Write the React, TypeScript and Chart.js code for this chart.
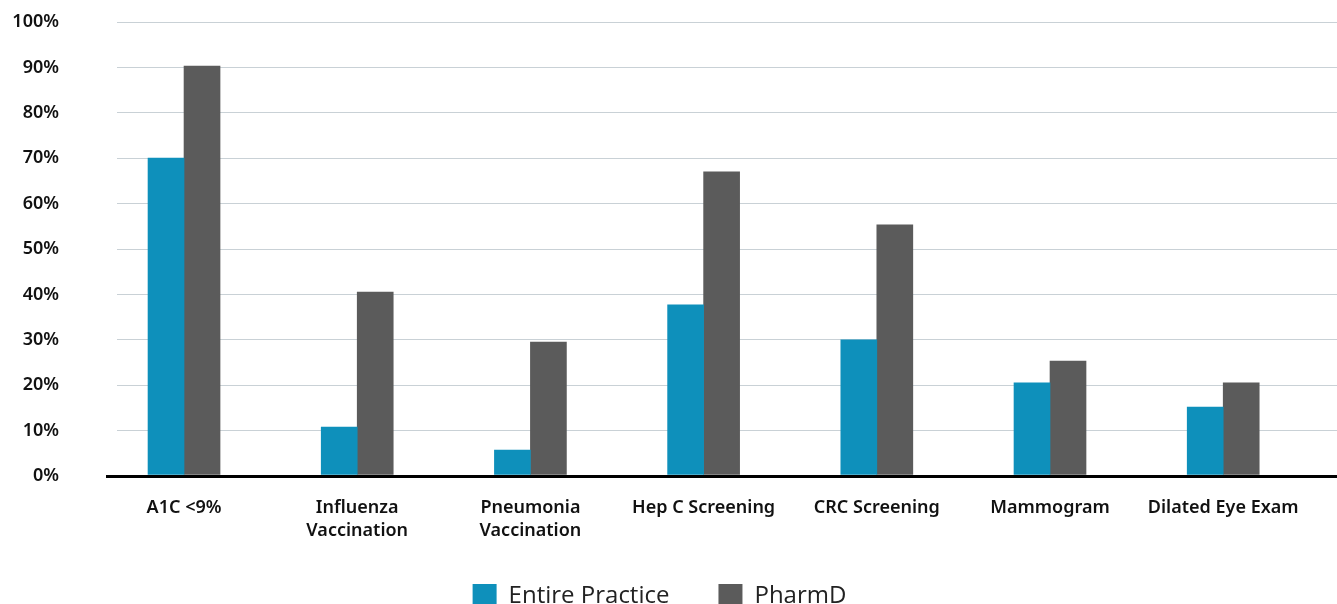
import React, { useEffect, useRef } from "react";
import { Chart, registerables } from "chart.js";

Chart.register(...registerables);

const categories: (string | string[])[] = [
  "A1C <9%",
  ["Influenza", "Vaccination"],
  ["Pneumonia", "Vaccination"],
  "Hep C Screening",
  "CRC Screening",
  "Mammogram",
  "Dilated Eye Exam",
];
const entirePractice = [70, 10.8, 5.7, 37.7, 30, 20.5, 15.2];
const pharmD = [90.3, 40.5, 29.5, 67, 55.3, 25.3, 20.5];
const seriesNames = ["Entire Practice", "PharmD"];
const yTicks = [0, 10, 20, 30, 40, 50, 60, 70, 80, 90, 100];

const BLUE = "#0E90BB";
const GRAY = "#5B5B5B";
const LABEL_FONT = "'Noto Sans', 'Open Sans', sans-serif";
const LEGEND_FONT = "'Open Sans', 'Noto Sans', sans-serif";

const CANVAS_W = 1355;
const CANVAS_H = 618;
const LEGEND_H = 24 + 49 + 10;
const PLOT_BOTTOM = 476;

export default function App() {
  const ref = useRef<HTMLCanvasElement | null>(null);

  useEffect(() => {
    if (!ref.current) return;
    const toPoints = (arr: number[]) => arr.map((v, i) => ({ x: i, y: v }));
    const chart = new Chart(ref.current, {
      type: "bar",
      data: {
        datasets: [
          {
            label: seriesNames[0],
            data: toPoints(entirePractice),
            backgroundColor: BLUE,
            barThickness: 36,
          },
          {
            label: seriesNames[1],
            data: toPoints(pharmD),
            backgroundColor: GRAY,
            barThickness: 36,
          },
        ],
      },
      options: {
        animation: false,
        responsive: false,
        layout: { padding: { top: 22, left: 0, right: 0, bottom: 0 } },
        plugins: {
          tooltip: { enabled: false },
          legend: {
            position: "bottom",
            labels: {
              boxWidth: 24,
              boxHeight: 24,
              padding: 49,
              color: "#222",
              font: { family: LEGEND_FONT, size: 24, weight: "400", lineHeight: 1.2 },
            },
          },
        },
        scales: {
          x: {
            type: "linear",
            min: -0.387,
            max: 6.657,
            offset: false,
            grid: { display: false, drawTicks: false },
            border: { display: false },
            afterBuildTicks: (scale: any) => {
              scale.ticks = categories.map((_, i) => ({ value: i }));
            },
            afterFit: (scale: any) => {
              scale.height = CANVAS_H - LEGEND_H - PLOT_BOTTOM;
              scale._computeLabelArea = () => undefined;
            },
            ticks: {
              autoSkip: false,
              maxRotation: 0,
              minRotation: 0,
              padding: 20,
              color: "#111",
              font: { family: LABEL_FONT, size: 18, weight: "600", lineHeight: 1.29 },
              callback: (v: any) => categories[Number(v)] ?? "",
            },
          },
          y: {
            min: 0,
            max: 100,
            border: { display: false },
            afterBuildTicks: (scale: any) => {
              scale.ticks = yTicks.map((v) => ({ value: v }));
            },
            afterFit: (scale: any) => {
              scale.width = 135;
              scale.paddingTop = 12;
              scale.paddingBottom = 12;
            },
            grid: {
              color: (ctx: any) => (ctx.tick && ctx.tick.value === 0 ? "#000" : "#C9D1D6"),
              lineWidth: (ctx: any) => (ctx.tick && ctx.tick.value === 0 ? 3 : 1),
              drawTicks: true,
              tickLength: 11,
              tickColor: (ctx: any) => (ctx.tick && ctx.tick.value === 0 ? "#000" : "rgba(0,0,0,0)"),
              tickWidth: (ctx: any) => (ctx.tick && ctx.tick.value === 0 ? 3 : 1),
            },
            ticks: {
              padding: 47,
              color: "#111",
              font: { family: LABEL_FONT, size: 18, weight: "600" },
              callback: (v: any) => `${v}%`,
            },
          },
        },
      } as any,
    });
    return () => chart.destroy();
  }, []);

  return (
    <div
      style={{
        position: "fixed",
        left: 0,
        top: 0,
        width: 1337,
        height: 604,
        overflow: "hidden",
        background: "#fff",
      }}
    >
      <canvas
        ref={ref}
        width={CANVAS_W}
        height={CANVAS_H}
        style={{ position: "absolute", left: -18, top: 0, width: CANVAS_W, height: CANVAS_H }}
      />
    </div>
  );
}
